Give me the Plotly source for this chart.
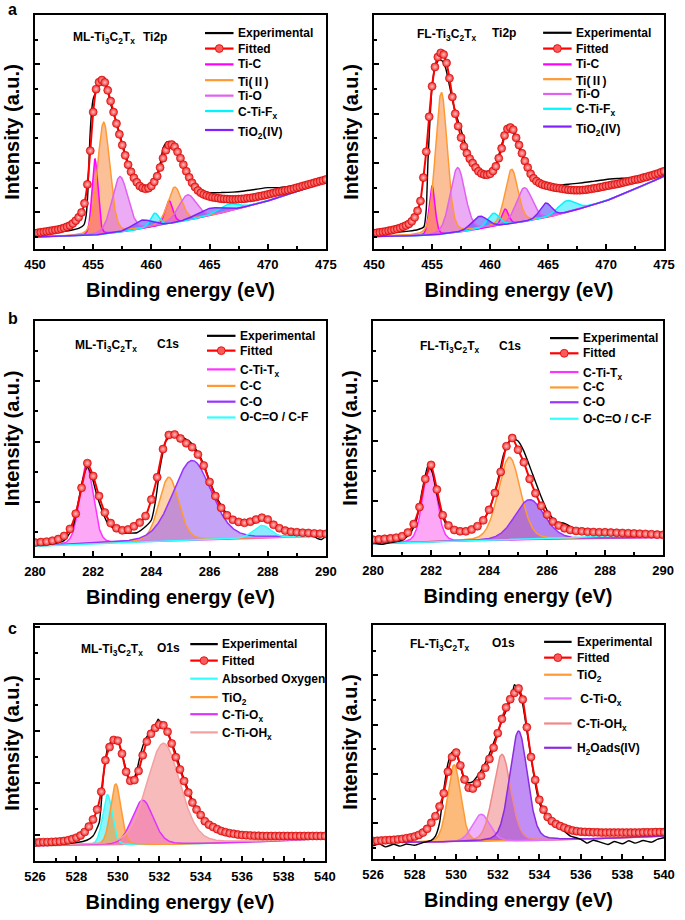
import numpy as np
import plotly.graph_objects as go

FONT = "Liberation Sans, Arial, Helvetica, sans-serif"

# ===================== DATA =====================
# ---- (a) left : ML-Ti3C2Tx  Ti2p ----
ti_ml_range = [450, 475]
ti_ml_fit_y = [6.7, 6.9, 7.1, 7.3, 7.5, 7.7, 7.9, 8.1, 8.3, 8.6, 9.0, 9.5, 10.0, 10.9, 12.1, 13.5,
               15.6, 19.5, 27.6, 42.0, 58.5, 68.3, 71.3, 72.2, 71.2, 67.8, 63.2, 58.5, 53.6, 49.0,
               44.4, 40.0, 36.0, 33.0, 30.4, 28.5, 26.9, 26.1, 25.7, 26.0, 26.9, 28.7, 31.1, 34.8,
               38.8, 42.2, 44.4, 44.6, 43.7, 41.5, 38.8, 36.0, 33.2, 30.6, 28.3, 26.5, 25.0, 24.0,
               23.3, 22.8, 22.4, 22.1, 21.9, 21.7, 21.5, 21.4, 21.3, 21.2, 21.2, 21.2, 21.3, 21.4,
               21.5, 21.7, 21.8, 22.0, 22.2, 22.5, 22.7, 23.0, 23.3, 23.6, 23.9, 24.2, 24.5, 24.7,
               25.0, 25.2, 25.5, 25.8, 26.2, 26.5, 26.9, 27.2, 27.6, 27.9, 28.3, 28.6, 29.0, 29.3, 29.7]
ti_ml_exp_x = [450, 451, 452, 453, 453.8, 454.2, 454.4, 454.55, 454.7, 454.85, 455.0, 455.3, 455.6,
               455.9, 456.1, 456.3, 456.5, 456.8, 457.0, 457.5, 458.0, 458.5, 459.0, 459.5, 460.0,
               460.5, 460.8, 461.0, 461.3, 461.6, 462.0, 462.5, 463.0, 463.5, 464.0, 464.5, 465,
               466, 467, 468, 469, 470, 471, 472, 473, 474, 475]
ti_ml_exp_y = [6.2, 6.6, 7.2, 7.9, 8.9, 10.3, 14.5, 25.0, 45.5, 58.0, 64.1, 67.8, 70.5,
               71.2, 69.5, 66.5, 62.0, 57.1, 54.3, 45.1, 36.7, 30.4, 27.1, 25.9, 26.9,
               31.8, 37.4, 43.0, 45.6, 45.9, 43.7, 38.8, 33.2, 29.0, 26.2, 24.8, 24.1,
               24.1, 24.3, 24.8, 25.5, 26.2, 26.2, 26.9, 27.6, 28.6, 29.7]
ti_ml_bg_x = [450, 452.5, 455, 457.5, 460, 462.5, 465, 467.5, 470, 472.5, 475]
ti_ml_bg_y = [5.1, 5.3, 5.8, 7.2, 9.3, 11.6, 14.2, 17.2, 20.5, 24.5, 28.7]
ti_ml_names = ["Ti-C", "Ti(Ⅱ)", "Ti-O", "C-Ti-F<sub>x</sub>", "TiO<sub>2</sub>(Ⅳ)"]
ti_ml_centers = [[455.15, 461.5], [455.9, 462.0], [457.3, 463.1], [460.3, 466.6], [459.2, 465.0]]
ti_ml_heights = [[32.6, 10.0], [47.8, 15.2], [23.8, 10.8], [5.7, 3.0], [3.7, 3.1]]
ti_ml_fwhm = [[0.6, 0.8], [1.25, 1.4], [1.6, 1.8], [0.9, 2.0], [2.0, 2.5]]

# ---- (a) right : FL-Ti3C2Tx  Ti2p ----
ti_fl_range = [450, 475]
ti_fl_fit_y = [6.7, 6.9, 7.1, 7.3, 7.5, 7.8, 8.0, 8.3, 8.6, 9.0, 9.5, 10.0, 10.7, 11.8, 13.5, 16.3,
               20.5, 30.5, 41.6, 56.5, 69.5, 77.8, 82.0, 83.8, 83.1, 79.5, 73.0, 65.0, 57.8, 52.5,
               47.6, 43.8, 40.9, 38.6, 36.7, 34.8, 33.2, 32.3, 31.8, 31.7, 32.1, 33.3, 35.3, 38.8,
               43.0, 48.5, 51.3, 51.9, 51.0, 47.5, 44.4, 40.9, 37.6, 34.8, 32.1, 30.2, 29.0, 28.2,
               27.6, 27.2, 26.9, 26.6, 26.3, 26.1, 25.9, 25.7, 25.5, 25.3, 25.2, 25.1, 25.1, 25.1,
               25.2, 25.3, 25.5, 25.7, 25.9, 26.1, 26.4, 26.6, 26.9, 27.1, 27.4, 27.6, 27.8, 28.1,
               28.4, 28.7, 29.0, 29.3, 29.6, 29.8, 30.1, 30.5, 30.8, 31.2, 31.5, 31.9, 32.3, 32.8, 33.2]
ti_fl_exp_x = [450, 451, 452, 453, 453.8, 454.3, 454.5, 454.65, 454.8, 455.0, 455.3, 455.6, 455.9,
               456.2, 456.5, 456.8, 457.1, 457.5, 458.0, 458.5, 459.0, 459.5, 460.0, 460.5, 461.0,
               461.3, 461.6, 461.9, 462.2, 462.5, 463.0, 463.5, 464.0, 464.5, 465, 466, 467, 468,
               469, 470, 471, 472, 473, 474, 475]
ti_fl_exp_y = [6.2, 6.6, 7.2, 7.6, 8.3, 9.5, 17.0, 38.0, 53.0, 69.8, 78.2, 81.0, 80.3,
               76.8, 69.8, 62.7, 57.1, 50.8, 43.0, 36.7, 32.5, 30.4, 32.5, 36.0, 44.4,
               49.4, 51.2, 50.8, 47.3, 43.0, 37.4, 32.5, 29.7, 28.3, 27.6, 27.3, 27.8, 28.3,
               29.0, 29.7, 30.1, 30.4, 31.1, 32.1, 33.2]
ti_fl_bg_x = [450, 452.5, 455, 457.5, 460, 462.5, 465, 467.5, 470, 472.5, 475]
ti_fl_bg_y = [5.3, 5.5, 5.8, 7.3, 9.3, 11.3, 13.5, 16.8, 20.5, 25.5, 31.1]
ti_fl_names = ["Ti-C", "Ti(Ⅱ)", "Ti-O", "C-Ti-F<sub>x</sub>", "TiO<sub>2</sub>(Ⅳ)"]
ti_fl_centers = [[455.0, 461.3], [455.8, 461.85], [457.2, 462.95], [460.3, 466.6], [459.1, 464.8]]
ti_fl_heights = [[21.1, 6.7], [60.6, 23.2], [27.6, 14.4], [5.7, 5.0], [5.4, 6.3]]
ti_fl_fwhm = [[0.6, 0.7], [1.2, 1.3], [1.5, 1.6], [1.2, 1.8], [1.6, 1.2]]

# ---- (b) left : ML-Ti3C2Tx  C1s ----
c_ml_range = [280, 290]
c_ml_fit_y = [5.7, 5.9, 6.1, 6.5, 7.2, 8.5, 11.5, 18.0, 29.0, 39.5, 34.0, 25.5, 18.5, 14.0, 11.8,
              10.9, 11.3, 12.6, 14.2, 17.0, 24.0, 33.5, 45.5, 51.5, 51.7, 50.0, 48.0, 46.3, 43.2,
              38.5, 31.5, 25.5, 20.5, 17.3, 15.4, 14.5, 14.1, 14.6, 15.5, 16.3, 15.5, 13.3, 11.8,
              10.8, 10.3, 10.1, 9.9, 9.8, 9.6, 9.5, 9.4]
c_ml_exp_x = [280, 280.5, 281, 281.3, 281.5, 281.65, 281.8, 281.95, 282.1, 282.3, 282.5, 282.8, 283,
              283.5, 283.8, 284, 284.15, 284.3, 284.5, 284.8, 285, 285.3, 285.5, 285.8, 286, 286.3,
              286.6, 287, 287.5, 287.8, 288, 288.5, 289, 289.5, 289.7, 289.85, 290]
c_ml_exp_y = [4.6, 5.0, 6.5, 12.0, 23.7, 33.0, 37.7, 34.0, 27.0, 19.5, 13.9, 11.0, 9.9,
              9.9, 12.5, 15.3, 24.0, 37.7, 48.9, 52.4, 51.0, 48.9, 46.0, 39.0, 32.0, 23.7,
              18.0, 14.6, 13.9, 15.3, 14.6, 11.0, 9.7, 9.0, 7.5, 7.0, 8.5]
c_ml_bg_x = [280, 282.5, 285, 287.5, 290]
c_ml_bg_y = [4.1, 5.4, 6.6, 7.6, 8.5]
c_ml_names = ["C-Ti-T<sub>x</sub>", "C-C", "C-O", "O-C=O / C-F"]
c_ml_centers = [[281.77], [284.6], [285.4], [287.8]]
c_ml_heights = [[33.7], [27.1], [33.9], [5.3]]
c_ml_fwhm = [[0.55], [0.8], [1.55], [0.7]]

# ---- (b) right : FL-Ti3C2Tx  C1s ----
c_fl_range = [280, 290]
c_fl_fit_y = [6.5, 6.7, 6.9, 7.1, 7.4, 8.0, 9.6, 13.2, 20.5, 32.5, 38.5, 28.0, 17.0, 12.6, 10.7,
              10.1, 10.1, 10.9, 12.3, 14.8, 19.3, 26.5, 35.5, 46.5, 50.0, 45.0, 39.6, 32.5, 26.4,
              21.0, 17.3, 14.3, 12.6, 11.4, 10.7, 10.3, 10.1, 9.9, 9.8, 9.7, 9.7, 9.6, 9.5, 9.4,
              9.3, 9.2, 9.1, 9.0, 8.9, 8.7, 8.6]
c_fl_exp_x = [280, 280.3, 280.6, 281, 281.3, 281.5, 281.7, 281.9, 282.05, 282.2, 282.35, 282.5, 282.8,
              283, 283.3, 283.5, 283.7, 284, 284.3, 284.5, 284.7, 284.85, 285.0, 285.2, 285.5, 285.8,
              286, 286.3, 286.6, 287, 287.5, 288, 288.5, 289, 289.2, 289.5, 290]
c_fl_exp_y = [5.1, 4.6, 5.3, 6.2, 9.5, 15.0, 28.0, 38.5, 35.0, 26.0, 18.5, 13.5, 10.3,
              9.3, 10.4, 11.4, 13.0, 19.1, 31.8, 43.0, 48.7, 49.5, 48.7, 44.4, 34.6, 24.8,
              19.1, 14.2, 13.5, 11.0, 10.4, 10.0, 10.2, 10.4, 9.5, 8.6, 8.2]
c_fl_bg_x = [280, 282.5, 285, 287.5, 290]
c_fl_bg_y = [4.8, 5.7, 6.5, 7.0, 7.5]
c_fl_names = ["C-Ti-T<sub>x</sub>", "C-C", "C-O", "O-C=O / C-F"]
c_fl_centers = [[281.95], [284.7], [285.4], [288.0]]
c_fl_heights = [[33.1], [35.4], [17.1], [1.2]]
c_fl_fwhm = [[0.55], [0.9], [1.2], [2.0]]

# ---- (c) left : ML-Ti3C2Tx  O1s ----
o_ml_range = [526, 540]
o_ml_fit_y = [7.8, 7.9, 8.0, 8.0, 8.1, 8.2, 8.3, 8.5, 8.8, 9.3, 9.9, 10.8, 12.3, 14.6, 17.6, 21.8,
              29.4, 42.7, 48.3, 51.3, 51.0, 45.5, 37.8, 34.0, 34.3, 38.2, 44.8, 50.6, 53.9, 56.4,
              57.8, 57.5, 54.8, 49.8, 44.0, 38.8, 33.9, 29.0, 24.8, 21.8, 19.5, 16.9, 15.4, 14.4,
              13.5, 12.7, 12.2, 11.8, 11.5, 11.2, 11.0, 10.9, 10.8, 10.7, 10.7, 10.6, 10.6, 10.6,
              10.6, 10.6, 10.6, 10.6, 10.6, 10.6, 10.6, 10.6, 10.6, 10.6, 10.6, 10.6, 10.6]
o_ml_exp_x = [526, 527, 528, 528.5, 528.8, 529.1, 529.3, 529.5, 529.8, 530.0, 530.2, 530.5, 530.7,
              530.9, 531.1, 531.3, 531.6, 531.8, 531.95, 532.1, 532.3, 532.5, 532.8, 533.1, 533.4,
              533.7, 534.0, 534.5, 535, 536, 537, 538, 539, 540]
o_ml_exp_y = [6.7, 7.0, 7.8, 8.8, 10.6, 16.2, 35.7, 47.6, 52.4, 51.0, 45.5, 35.7, 33.6,
              37.8, 45.5, 51.0, 55.2, 57.3, 60.1, 58.0, 56.5, 52.4, 45.5, 37.1, 30.1,
              23.8, 19.0, 15.5, 13.4, 11.3, 10.6, 10.3, 9.9, 10.3]
o_ml_bg_x = [526, 529.5, 533, 536.5, 540]
o_ml_bg_y = [6.4, 6.7, 7.1, 8.0, 9.5]
o_ml_names = ["Absorbed Oxygen", "TiO<sub>2</sub>", "C-Ti-O<sub>x</sub>", "C-Ti-OH<sub>x</sub>"]
o_ml_centers = [[529.5], [529.9], [531.2], [532.2]]
o_ml_heights = [[21.4], [25.9], [18.9], [42.9]]
o_ml_fwhm = [[0.55], [0.6], [1.2], [1.9]]

# ---- (c) right : FL-Ti3C2Tx  O1s ----
o_fl_range = [526, 540]
o_fl_fit_y = [7.7, 7.8, 7.9, 8.0, 8.1, 8.2, 8.4, 8.6, 8.9, 9.2, 9.6, 10.3, 11.3, 12.9, 15.5, 18.3,
              22.5, 28.1, 37.3, 43.6, 45.5, 40.0, 34.0, 30.5, 30.1, 32.3, 35.6, 39.0, 42.8, 47.6,
              53.8, 59.9, 64.8, 68.3, 71.0, 72.9, 68.2, 56.3, 43.6, 33.8, 25.3, 21.1, 18.0, 16.2,
              15.0, 14.1, 13.4, 12.7, 12.2, 11.9, 11.7, 11.6, 11.5, 11.4, 11.4, 11.3, 11.3, 11.3,
              11.3, 11.3, 11.3, 11.3, 11.3, 11.3, 11.3, 11.4, 11.4, 11.4, 11.5, 11.5, 11.5]
o_fl_exp_x = [526, 526.3, 526.6, 527, 527.3, 527.6, 528, 528.4, 528.8, 529.0, 529.2, 529.4, 529.6,
              529.8, 530.0, 530.2, 530.4, 530.6, 530.8, 531.0, 531.3, 531.6, 531.9, 532.2, 532.5,
              532.7, 532.8, 533.0, 533.2, 533.4, 533.6, 533.8, 534.0, 534.2, 534.5, 535.0, 535.5,
              535.8, 536, 536.3, 536.6, 537, 537.3, 537.6, 538, 538.3, 538.6, 539, 539.4, 539.7, 540]
o_fl_exp_y = [5.6, 6.5, 5.2, 6.3, 5.5, 6.4, 5.9, 7.0, 8.0, 9.8, 15.5, 29.5, 40.8,
              45.7, 45.0, 39.4, 33.8, 32.6, 33.1, 35.2, 39.4, 45.0, 52.0, 59.1, 65.4,
              70.3, 74.5, 72.4, 66.1, 54.9, 43.6, 32.3, 23.9, 20.4, 16.9, 13.4, 9.8,
              9.0, 8.4, 6.8, 8.0, 7.0, 6.2, 7.5, 6.5, 7.8, 6.8, 7.9, 7.2, 8.5, 9.1]
o_fl_bg_x = [526, 529.5, 533, 536.5, 540]
o_fl_bg_y = [7.0, 7.2, 7.7, 8.5, 9.8]
o_fl_names = ["TiO<sub>2</sub>", " C-Ti-O<sub>x</sub>", "C-Ti-OH<sub>x</sub>", "H<sub>2</sub>Oads(IV)"]
o_fl_centers = [[529.9], [531.2], [532.2], [533.0]]
o_fl_heights = [[33.0], [11.7], [37.2], [47.0]]
o_fl_fwhm = [[0.75], [1.0], [1.0], [1.0]]

ML_LABEL = "ML-Ti<sub>3</sub>C<sub>2</sub>T<sub>x</sub>"
FL_LABEL = "FL-Ti<sub>3</sub>C<sub>2</sub>T<sub>x</sub>"

# ===================== STYLE / LAYOUT =====================
W, H = 685, 920
ML, MR, MT, MB = 35, 10, 15, 48
PW, PH = W - ML - MR, H - MT - MB


def px(x):
    return (x - ML) / PW


def py(y):
    return (H - MB - y) / PH


def pv(x, c, h, w, eta=0.2):
    t = (x - c) / w
    return h * ((1 - eta) * np.exp(-4 * np.log(2) * t * t) + eta / (1 + 4 * t * t))


def cjk(txt):
    for ch in ("Ⅱ", "Ⅳ"):
        txt = txt.replace(ch, "<span style=\"font-family:Noto Sans CJK SC\">" + ch + "</span>")
    return txt


TI_LINES = ["#FF00FF", "#FF9A33", "#E060F0", "#00F5FF", "#8020FF"]
TI_FILLS = ["rgba(255,20,120,0.55)", "rgba(250,140,70,0.55)", "rgba(215,90,235,0.5)",
            "rgba(0,230,255,0.5)", "rgba(70,60,255,0.55)"]

panels = [
    dict(rng=ti_ml_range, fit=ti_ml_fit_y, ex=ti_ml_exp_x, ey=ti_ml_exp_y, bx=ti_ml_bg_x, by=ti_ml_bg_y,
         names=ti_ml_names, cen=ti_ml_centers, hei=ti_ml_heights, fw=ti_ml_fwhm,
         box=(35, 331, 15, 252), xdt=5, xmin=2.5, y0=15.6, ydt=21.1,
         lines=TI_LINES, fills=TI_FILLS,
         leg=(208, 237, 240, [33.3, 49, 65, 81, 96.7, 112.3, 131.5]),
         title=[(ML_LABEL, 72, 37.5), ("Ti2p", 143, 37.5)]),
    dict(rng=ti_fl_range, fit=ti_fl_fit_y, ex=ti_fl_exp_x, ey=ti_fl_exp_y, bx=ti_fl_bg_x, by=ti_fl_bg_y,
         names=ti_fl_names, cen=ti_fl_centers, hei=ti_fl_heights, fw=ti_fl_fwhm,
         box=(380, 675, 15, 252), xdt=5, xmin=2.5, y0=15.6, ydt=21.1,
         lines=TI_LINES, fills=TI_FILLS,
         leg=(552, 581, 583, [33, 49, 65, 80, 95, 110, 128]),
         title=[(FL_LABEL, 421.7, 34), ("Ti2p", 498.3, 34)]),
    dict(rng=c_ml_range, fit=c_ml_fit_y, ex=c_ml_exp_x, ey=c_ml_exp_y, bx=c_ml_bg_x, by=c_ml_bg_y,
         names=c_ml_names, cen=c_ml_centers, hei=c_ml_heights, fw=c_ml_fwhm,
         box=(35, 331, 325, 563), xdt=2, xmin=1, y0=23.0, ydt=25.7,
         lines=["#FF33FF", "#FF9933", "#9933FF", "#33FFFF"],
         fills=["rgba(250,110,240,0.6)", "rgba(255,175,100,0.55)", "rgba(150,90,240,0.55)",
                "rgba(60,220,255,0.6)"],
         leg=(210, 239, 242, [340, 355, 374, 390.7, 406.7, 422.7]),
         title=[(ML_LABEL, 74, 349), ("C1s", 156.7, 349)]),
    dict(rng=c_fl_range, fit=c_fl_fit_y, ex=c_fl_exp_x, ey=c_fl_exp_y, bx=c_fl_bg_x, by=c_fl_bg_y,
         names=c_fl_names, cen=c_fl_centers, hei=c_fl_heights, fw=c_fl_fwhm,
         box=(379, 674, 325, 562), xdt=2, xmin=1, y0=23.0, ydt=25.7,
         lines=["#FF33FF", "#FF9933", "#9933FF", "#33FFFF"],
         fills=["rgba(250,110,240,0.6)", "rgba(255,175,100,0.55)", "rgba(130,50,230,0.6)",
                "rgba(60,220,255,0.6)"],
         leg=(559, 588, 591, [342.3, 357.7, 376.7, 392.3, 407.3, 424]),
         title=[(FL_LABEL, 425, 350.5), ("C1s", 505, 350.5)]),
    dict(rng=o_ml_range, fit=o_ml_fit_y, ex=o_ml_exp_x, ey=o_ml_exp_y, bx=o_ml_bg_x, by=o_ml_bg_y,
         names=o_ml_names, cen=o_ml_centers, hei=o_ml_heights, fw=o_ml_fwhm,
         box=(35, 330, 633, 872), xdt=2, xmin=1, y0=11.0, ydt=22.0,
         lines=["#33FFFF", "#FF9933", "#DD33FF", "#F5A0A0"],
         fills=["rgba(60,240,250,0.6)", "rgba(250,150,50,0.65)", "rgba(230,50,220,0.6)",
                "rgba(245,150,150,0.65)"],
         leg=(193, 221, 223, [652.3, 669, 687.3, 706, 723.3, 741.7]),
         title=[(ML_LABEL, 80, 657), ("O1s", 156.7, 657)]),
    dict(rng=o_fl_range, fit=o_fl_fit_y, ex=o_fl_exp_x, ey=o_fl_exp_y, bx=o_fl_bg_x, by=o_fl_bg_y,
         names=o_fl_names, cen=o_fl_centers, hei=o_fl_heights, fw=o_fl_fwhm,
         box=(379, 675, 633, 870), xdt=2, xmin=1, y0=15.2, ydt=21.1,
         lines=["#FF9933", "#E070FF", "#F08888", "#8A2BE2"],
         fills=["rgba(250,150,50,0.65)", "rgba(225,100,250,0.5)", "rgba(240,130,130,0.55)",
                "rgba(140,50,235,0.55)"],
         leg=(553, 581, 584, [650, 666, 683.3, 707.3, 732.7, 757.3]),
         title=[(FL_LABEL, 415, 652), ("O1s", 498.3, 652)]),
]

fig = go.Figure()
layout = dict(width=W, height=H, margin=dict(l=ML, r=MR, t=MT, b=MB),
              paper_bgcolor="white", plot_bgcolor="white", showlegend=False,
              font=dict(family=FONT, size=12, color="black", weight="bold"))
shapes, annotations = [], []

RED = "rgb(240,40,40)"

for i, p in enumerate(panels, start=1):
    xs = "x" if i == 1 else f"x{i}"
    ys = "y" if i == 1 else f"y{i}"
    x0, x1, yt, yb = p["box"]
    common = dict(showline=True, linewidth=2, linecolor="black", mirror=True, ticks="inside",
                  ticklen=5, tickwidth=1.5, tickcolor="black", showgrid=False, zeroline=False)
    layout["xaxis" if i == 1 else f"xaxis{i}"] = dict(
        common, domain=[px(x0), px(x1)], anchor=ys, range=p["rng"], tick0=p["rng"][0], dtick=p["xdt"],
        minor=dict(dtick=p["xmin"], tick0=p["rng"][0], ticks="inside", ticklen=3, tickwidth=1.5,
                   tickcolor="black"),
        tickfont=dict(size=13, family=FONT, color="black", weight="bold"), ticklabelstandoff=2,
        title=dict(text="Binding energy (eV)", font=dict(size=20, family=FONT, weight="bold"), standoff=12))
    layout["yaxis" if i == 1 else f"yaxis{i}"] = dict(
        common, domain=[py(yb), py(yt)], anchor=xs, range=[0, 100], showticklabels=False,
        tick0=p["y0"], dtick=p["ydt"],
        minor=dict(dtick=p["ydt"] / 2, tick0=p["y0"], ticks="inside", ticklen=3, tickwidth=1.5,
                   tickcolor="black"),
        title=dict(text="Intensity (a.u.)", font=dict(size=20, family=FONT, weight="bold"), standoff=8))

    grid = np.linspace(p["rng"][0], p["rng"][1], 800)
    bg = np.interp(grid, p["bx"], p["by"])
    curves = []
    for cs, hs, ws in zip(p["cen"], p["hei"], p["fw"]):
        yv = bg.copy()
        for c, h, w in zip(cs, hs, ws):
            yv = yv + pv(grid, c, h, w)
        curves.append(yv)
    for yv, fc in zip(curves, p["fills"]):
        fig.add_trace(go.Scatter(x=np.concatenate([grid, grid[::-1]]), y=np.concatenate([yv, bg[::-1]]),
                                 mode="lines", fill="toself", fillcolor=fc, line=dict(width=0),
                                 hoverinfo="skip", xaxis=xs, yaxis=ys))
    for yv, lc, nm in zip(curves, p["lines"], p["names"]):
        fig.add_trace(go.Scatter(x=grid, y=yv, mode="lines", name=nm, line=dict(color=lc, width=1.5),
                                 xaxis=xs, yaxis=ys))
    fig.add_trace(go.Scatter(x=p["ex"], y=p["ey"], mode="lines", name="Experimental",
                             line=dict(color="black", width=1.4, shape="spline", smoothing=0.5),
                             xaxis=xs, yaxis=ys))
    fx = np.linspace(p["rng"][0], p["rng"][1], len(p["fit"]))
    fig.add_trace(go.Scatter(x=fx, y=p["fit"], mode="lines+markers", name="Fitted",
                             line=dict(color="red", width=2, shape="spline", smoothing=0.5),
                             marker=dict(size=8, color=RED, gradient=dict(type="radial", color="rgb(255,190,190)"),
                                         line=dict(width=0.6, color="rgb(210,0,0)")),
                             xaxis=xs, yaxis=ys))

    # legend (drawn manually to match the reference spacing)
    lx0, lx1, tx, lys = p["leg"]
    items = [("Experimental", "black"), ("Fitted", "red")] + list(zip(p["names"], p["lines"]))
    for (txt, col), yc in zip(items, lys):
        shapes.append(dict(type="line", xref="paper", yref="paper", x0=px(lx0), x1=px(lx1),
                           y0=py(yc), y1=py(yc), line=dict(color=col, width=2.2)))
        if txt == "Fitted":
            cx = (lx0 + lx1) / 2
            shapes.append(dict(type="circle", xref="paper", yref="paper", x0=px(cx - 4), x1=px(cx + 4),
                               y0=py(yc + 4), y1=py(yc - 4), fillcolor="rgb(250,90,90)",
                               line=dict(color="rgb(220,0,0)", width=0.8)))
        off = 1.5 if "<sub>" in txt else 0
        annotations.append(dict(text=cjk(txt), xref="paper", yref="paper", x=px(tx), y=py(yc + off),
                                xanchor="left", yanchor="middle", showarrow=False,
                                font=dict(size=12, family=FONT, color="black", weight="bold")))
    for txt, tx_, ty_ in p["title"]:
        off = 1.5 if "<sub>" in txt else 0
        annotations.append(dict(text=txt, xref="paper", yref="paper", x=px(tx_), y=py(ty_ - 0.5 + off),
                                xanchor="left", yanchor="middle", showarrow=False,
                                font=dict(size=12, family=FONT, color="black", weight="bold")))

for letter, lxp, lyp in [("a", 12, 0), ("b", 13, 313), ("c", 12.5, 627)]:
    annotations.append(dict(text=letter, xref="paper", yref="paper", x=px(lxp), y=py(lyp),
                            xanchor="center", yanchor="top", showarrow=False, borderpad=0,
                            font=dict(size=16, family=FONT, color="black", weight="bold")))

layout["shapes"] = shapes
layout["annotations"] = annotations
fig.update_layout(**layout)
fig.write_html("out.html", config={"displayModeBar": False},
               post_script="document.body.style.margin='0';")
